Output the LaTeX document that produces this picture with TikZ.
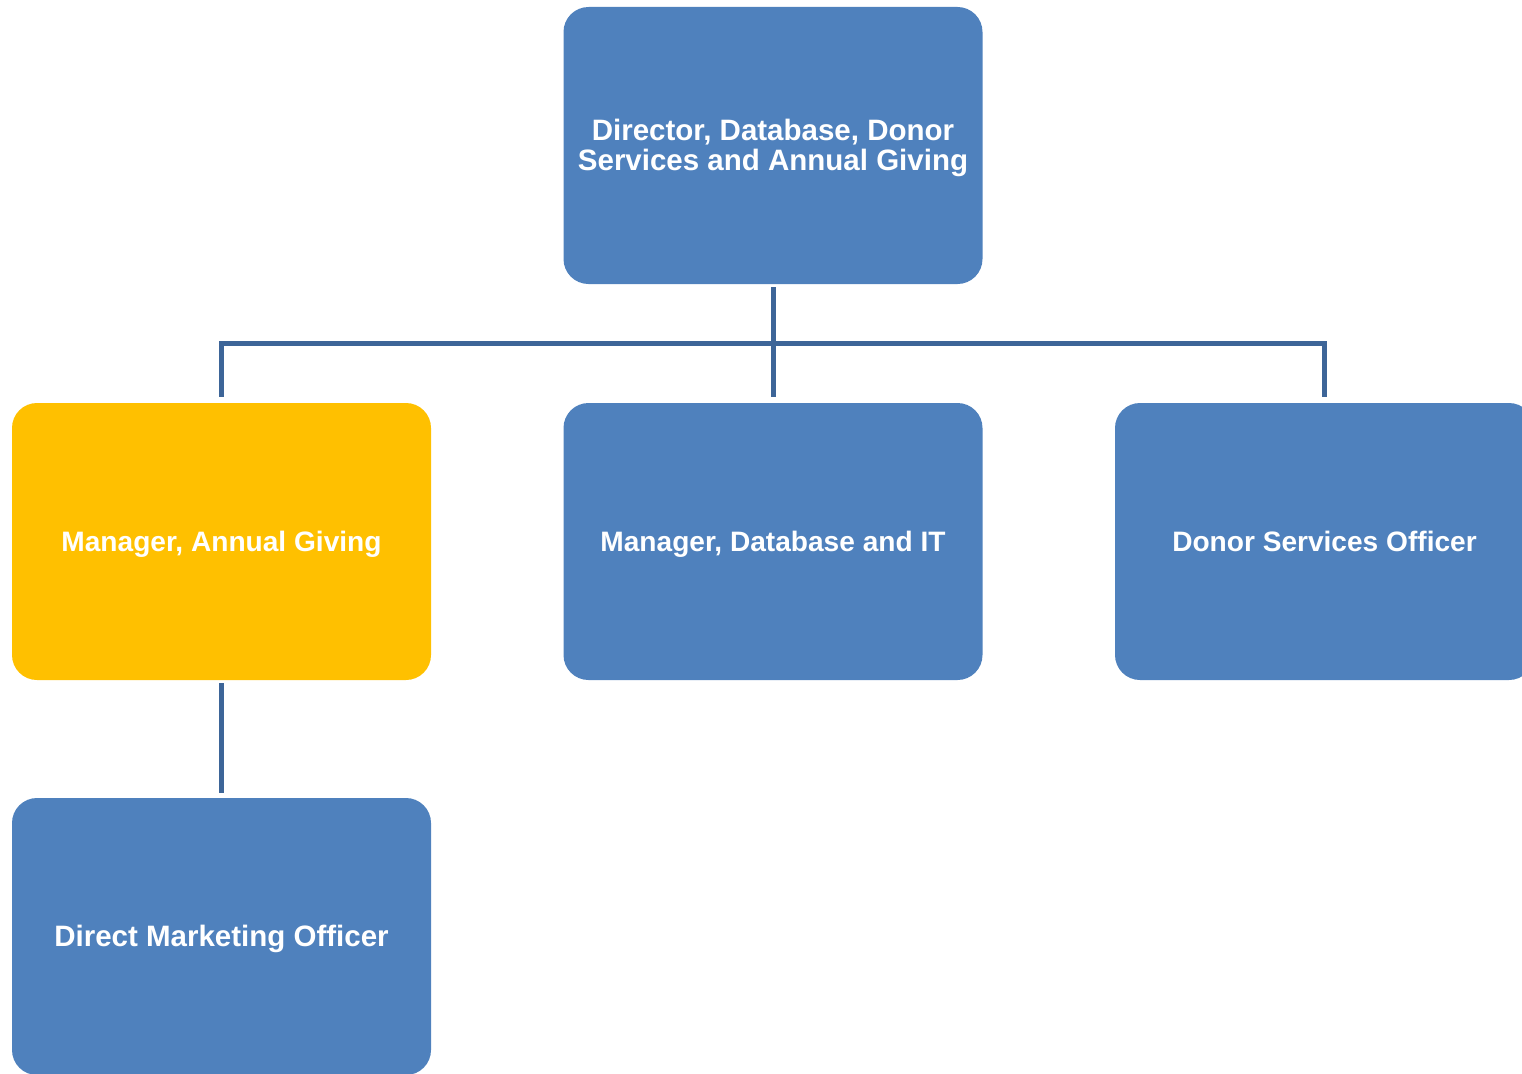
\documentclass[tikz,border=0pt]{standalone}
\usepackage{fontspec}
\setmainfont{Liberation Sans}
\definecolor{boxblue}{HTML}{4F81BD}
\definecolor{boxyellow}{HTML}{FFC000}
\definecolor{linkblue}{HTML}{3D6598}
\begin{document}
\begin{tikzpicture}[x=1pt,y=-1pt,
  orgbox/.style={rectangle,rounded corners=25pt,fill=boxblue,draw=none,
    minimum width=419pt,minimum height=277pt,inner sep=0pt,
    text=white,font=\bfseries\fontsize{29.5}{30}\selectfont,align=center,
    text height=19pt,text depth=0pt},
  smalltext/.style={font=\bfseries\fontsize{28.1}{30}\selectfont},
  conn/.style={draw=linkblue,line width=5pt,line cap=butt,line join=miter}]
\useasboundingbox (0,0) rectangle (1522,1073);
\node[orgbox,text height=50pt] (top) at (773,145.5) {Director, Database, Donor\\Services and Annual Giving};
\node[orgbox,smalltext,fill=boxyellow] (mag) at (221.5,541.5) {Manager, Annual Giving};
\node[orgbox,smalltext] (mdb) at (773,541.5) {Manager, Database and IT};
\node[orgbox,smalltext] (dso) at (1324.5,541.5) {Donor Services Officer};
\node[orgbox] (dmo) at (221.5,936.5) {Direct Marketing Officer};
\coordinate (bus) at (773,343);
\draw[conn] ([yshift=-3pt]top.south) -- (top.south |- bus);
\draw[conn] ([yshift=6pt]mag.north) -- (mag.north |- bus) -- (dso.north |- bus) -- ([yshift=6pt]dso.north);
\draw[conn] (mdb.north |- bus) -- ([yshift=6pt]mdb.north);
\draw[conn] ([yshift=-3pt]mag.south) -- ([yshift=5pt]dmo.north);
\end{tikzpicture}
\end{document}
